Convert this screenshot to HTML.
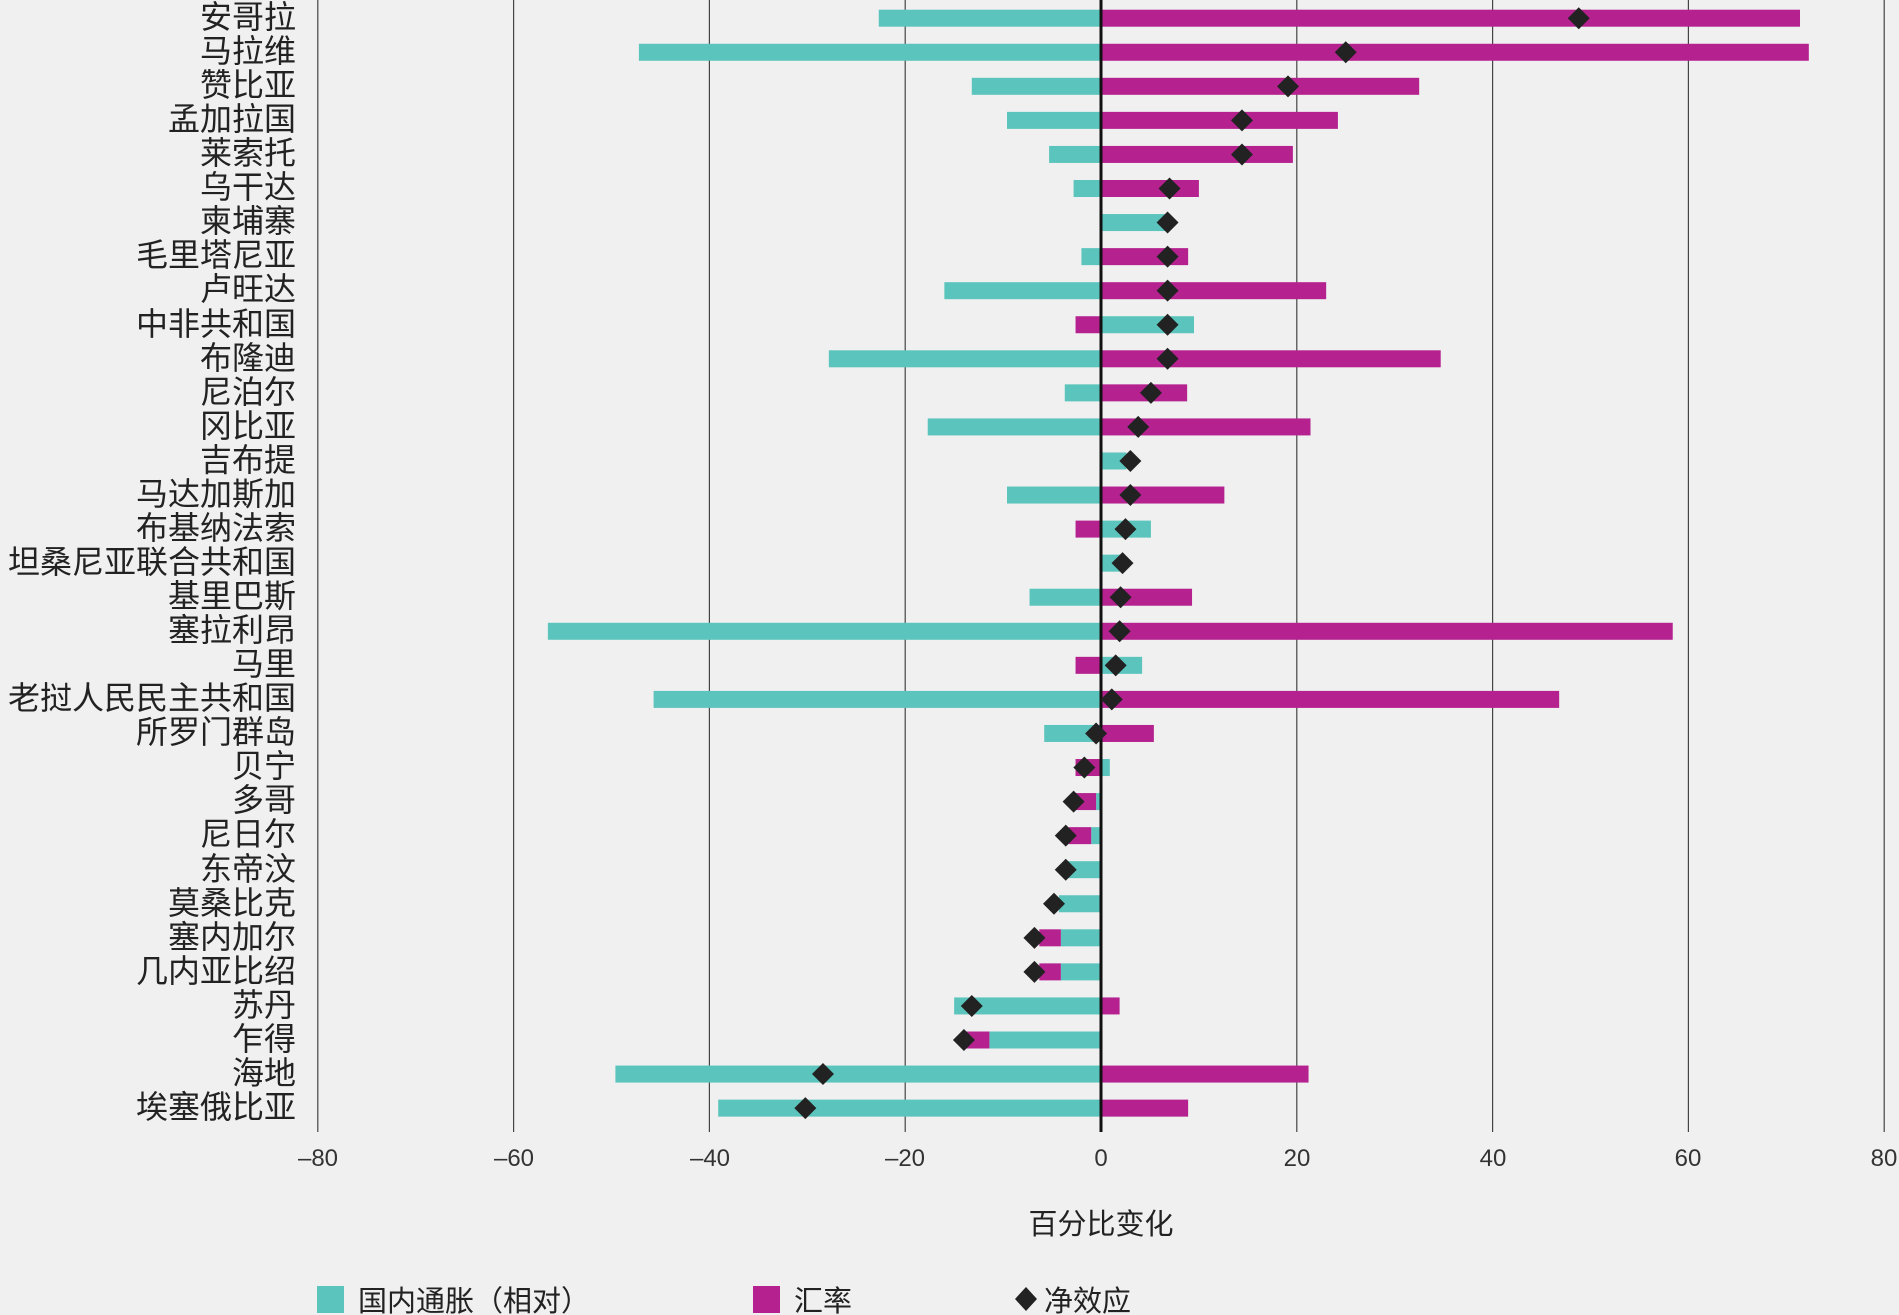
<!DOCTYPE html>
<html><head><meta charset="utf-8"><style>
html,body{margin:0;padding:0;background:#f0f0f0;}
svg{display:block;}
.lab{font-family:"Liberation Sans","Noto Sans CJK SC",sans-serif;font-size:32px;fill:#222;}
.tick{font-family:"Liberation Sans Narrow","Liberation Sans",sans-serif;font-size:24px;fill:#333;}
</style></head><body>
<svg id="c" width="1899" height="1315" viewBox="0 0 1899 1315" xmlns="http://www.w3.org/2000/svg">
<rect width="1899" height="1315" fill="#f0f0f0"/>
<g id="grid"></g>
<g id="bars"></g>
<line x1="1101" y1="0" x2="1101" y2="1132" stroke="#111" stroke-width="3"/>
<g id="dia"></g>
<g class="lab" text-anchor="end" transform="translate(0,-1)">
<text x="296" y="29">安哥拉</text>
<text x="296" y="63">马拉维</text>
<text x="296" y="97">赞比亚</text>
<text x="296" y="131">孟加拉国</text>
<text x="296" y="165">莱索托</text>
<text x="296" y="199">乌干达</text>
<text x="296" y="233">柬埔寨</text>
<text x="296" y="267">毛里塔尼亚</text>
<text x="296" y="301">卢旺达</text>
<text x="296" y="336">中非共和国</text>
<text x="296" y="370">布隆迪</text>
<text x="296" y="404">尼泊尔</text>
<text x="296" y="438">冈比亚</text>
<text x="296" y="472">吉布提</text>
<text x="296" y="506">马达加斯加</text>
<text x="296" y="540">布基纳法索</text>
<text x="296" y="574">坦桑尼亚联合共和国</text>
<text x="296" y="608">基里巴斯</text>
<text x="296" y="642">塞拉利昂</text>
<text x="296" y="676">马里</text>
<text x="296" y="710">老挝人民民主共和国</text>
<text x="296" y="744">所罗门群岛</text>
<text x="296" y="778">贝宁</text>
<text x="296" y="812">多哥</text>
<text x="296" y="846">尼日尔</text>
<text x="296" y="881">东帝汶</text>
<text x="296" y="915">莫桑比克</text>
<text x="296" y="949">塞内加尔</text>
<text x="296" y="983">几内亚比绍</text>
<text x="296" y="1017">苏丹</text>
<text x="296" y="1051">乍得</text>
<text x="296" y="1085">海地</text>
<text x="296" y="1119">埃塞俄比亚</text>
</g>
<g class="tick" text-anchor="middle">
<text x="318" y="1166">–80</text>
<text x="514" y="1166">–60</text>
<text x="710" y="1166">–40</text>
<text x="905" y="1166">–20</text>
<text x="1101" y="1166">0</text>
<text x="1297" y="1166">20</text>
<text x="1493" y="1166">40</text>
<text x="1688" y="1166">60</text>
<text x="1884" y="1166">80</text>
</g>
<text x="1101" y="1234" text-anchor="middle" class="lab" style="font-size:29px">百分比变化</text>
<rect x="317" y="1286" width="27" height="27" fill="#5bc4bc"/>
<text x="358" y="1311" class="lab" style="font-size:29px">国内通胀（相对）</text>
<rect x="753" y="1286" width="27" height="27" fill="#b5218f"/>
<text x="794" y="1311" class="lab" style="font-size:29px">汇率</text>
<polygon points="1026,1287 1037,1299 1026,1311 1015,1299" fill="#222"/>
<text x="1044" y="1311" class="lab" style="font-size:29px">净效应</text>
</svg>
<script>
var X=function(v){return 1101+v*9.79;};
var d=[[-22.7,71.4,48.8],[-47.2,72.3,25],[-13.2,32.5,19.1],[-9.6,24.2,14.4],[-5.3,19.6,14.4],[-2.8,10,7],[6.8,0,6.8],[-2,8.9,6.8],[-16,23,6.8],[9.5,-2.6,6.8],[-27.8,34.7,6.8],[-3.7,8.8,5.1],[-17.7,21.4,3.8],[2.6,0,3],[-9.6,12.6,3],[5.1,-2.6,2.5],[2,0,2.2],[-7.3,9.3,2],[-56.5,58.4,1.9],[4.2,-2.6,1.5],[-45.7,46.8,1.1],[-5.8,5.4,-0.5],[0.9,-2.6,-1.7],[-0.5,-2.3,-2.8],[-1,-2.3,-3.6],[-3.6,0,-3.6],[-4.3,0,-4.8],[-4.1,-2.2,-6.8],[-4.1,-2.2,-6.8],[-15,1.9,-13.2],[-11.4,-2.7,-14],[-49.6,21.2,-28.4],[-39.1,8.9,-30.2]];
var ns="http://www.w3.org/2000/svg";
function el(g,t,a){var e=document.createElementNS(ns,t);for(var k in a)e.setAttribute(k,a[k]);document.getElementById(g).appendChild(e);}
for(var v=-80;v<=80;v+=20){if(v!==0)el("grid","line",{x1:X(v),y1:0,x2:X(v),y2:1132,stroke:"#444","stroke-width":1.2});}
d.forEach(function(r,i){var y=18.2+i*34.06;var pos=0,neg=0;
[[r[0],"#5bc4bc"],[r[1],"#b5218f"]].forEach(function(s){var v=s[0];if(v===0)return;var a,b;
if(v>0){a=pos;b=pos+v;pos=b;}else{a=neg+v;b=neg;neg=a;}
el("bars","rect",{x:X(a),y:y-8.5,width:X(b)-X(a),height:17,fill:s[1]});});
var cx=X(r[2]);el("dia","polygon",{points:(cx)+","+(y-11)+" "+(cx+11)+","+y+" "+cx+","+(y+11)+" "+(cx-11)+","+y,fill:"#222"});});
</script>
</body></html>
